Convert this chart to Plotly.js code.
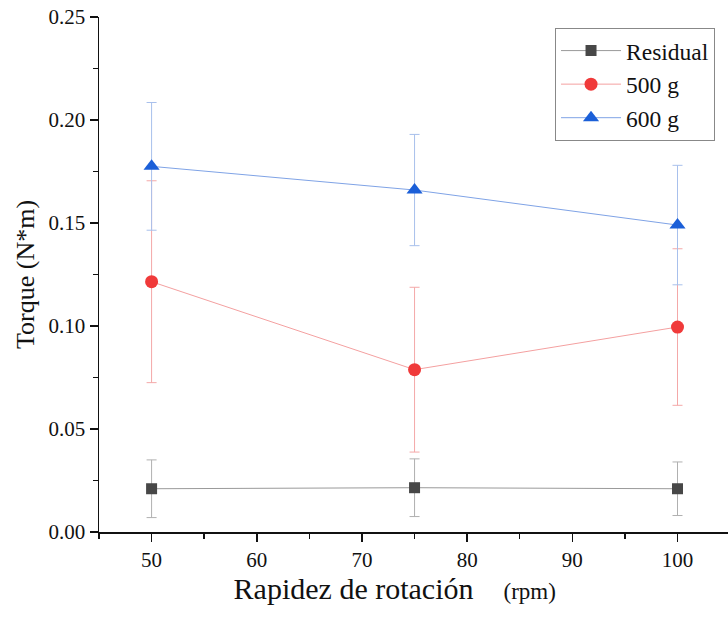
<!DOCTYPE html>
<html><head><meta charset="utf-8">
<script src="https://cdn.plot.ly/plotly-3.0.1.min.js"></script>
<style>body{margin:0;padding:0;background:#fff}#c{width:728px;height:617px}</style>
</head><body><div id="c"></div>
<script>
const speeds = [50, 75, 100];
const residual = [0.021, 0.0215, 0.021];
const residualErr = [0.014, 0.014, 0.013];
const g500 = [0.1215, 0.0788, 0.0995];
const g500Err = [0.049, 0.040, 0.038];
const g600 = [0.1775, 0.166, 0.149];
const g600Err = [0.031, 0.027, 0.029];
const names = ["Residual", "500 g", "600 g"];
const FAM = 'Liberation Serif';

function tr(y, e, name, mcol, lcol, ecol, sym, size) {
  return {x: speeds, y: y, name: name, type: 'scatter', mode: 'lines+markers',
    line: {color: lcol, width: 1},
    marker: {color: mcol, symbol: sym, size: size},
    error_y: {type: 'data', array: e, visible: true, color: ecol, thickness: 1, width: 5}};
}
const data = [
  tr(residual, residualErr, names[0], '#474747', '#9a9a9a', '#b0b0b0', 'square', 11),
  tr(g500, g500Err, names[1], '#f03a3a', '#f4a0a0', '#f4a8a8', 'circle', 13),
  tr(g600, g600Err, names[2], '#1b5fd8', '#7fa3e6', '#a8c0ec', 'triangle-up', 14)
];
const layout = {
  width: 728, height: 617,
  margin: {l: 99, r: 0, t: 17, b: 85},
  paper_bgcolor: '#fff', plot_bgcolor: '#fff',
  font: {family: FAM, color: '#111', size: 21},
  showlegend: true,
  legend: {x: 0.725, y: 0.979, xanchor: 'left', yanchor: 'top', bordercolor: '#888', borderwidth: 1,
    font: {family: FAM, size: 23.5, color: '#111'}, itemwidth: 60, tracegroupgap: 0, bgcolor: '#fff'},
  xaxis: {range: [45, 104.8], tickvals: [50, 60, 70, 80, 90, 100], ticks: 'outside', ticklen: 8, tickwidth: 1.5,
    tickcolor: '#111', showline: true, linecolor: '#111', linewidth: 1.5, showgrid: false, zeroline: false,
    minor: {dtick: 5, ticks: 'outside', ticklen: 5, tickwidth: 1.5, tickcolor: '#111', showgrid: false},
    tickfont: {family: FAM, size: 21, color: '#111'},
    title: {text: "Rapidez de rotación&nbsp;&nbsp;&nbsp;&nbsp;<span style='font-size:23px'>(rpm)</span>&nbsp;&nbsp;&nbsp;&nbsp;&nbsp;", font: {family: FAM, size: 30, color: '#111'}, standoff: 0}},
  yaxis: {range: [0, 0.25], tickvals: [0, 0.05, 0.10, 0.15, 0.20, 0.25], ticktext: ['0.00','0.05','0.10','0.15','0.20','0.25'],
    ticks: 'outside', ticklen: 8, tickwidth: 1.5, tickcolor: '#111', showline: true, linecolor: '#111', linewidth: 1.5,
    showgrid: false, zeroline: false,
    minor: {dtick: 0.025, ticks: 'outside', ticklen: 5, tickwidth: 1.5, tickcolor: '#111', showgrid: false},
    tickfont: {family: FAM, size: 21, color: '#111'},
    title: {text: 'Torque (N*m)', font: {family: FAM, size: 26, color: '#111'}, standoff: 6}}
};
Plotly.newPlot('c', data, layout, {displayModeBar: false, staticPlot: true});
</script></body></html>
